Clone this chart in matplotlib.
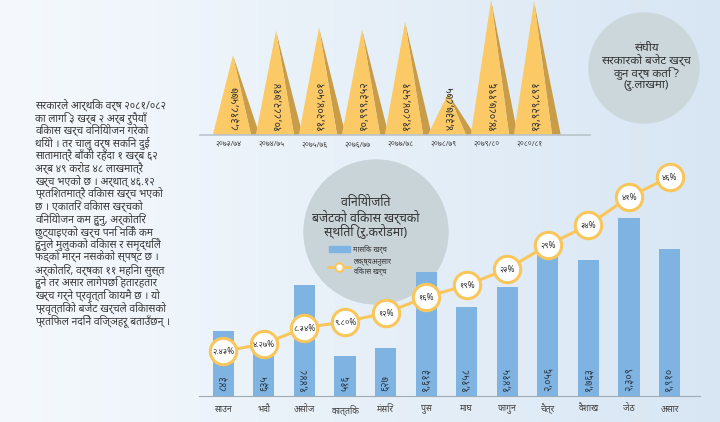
import numpy as np
import matplotlib
matplotlib.use("Agg")
import matplotlib.pyplot as plt
from matplotlib import font_manager
from matplotlib.patches import Circle, Polygon, Rectangle
from fontTools.ttLib import TTFont

# yearly federal budget expense (Rs. lakh)
years = ['२०७३/७४', '२०७४/७५', '२०७५/७६', '२०७६/७७',
         '२०७७/७८', '२०७८/७९', '२०७९/८०', '२०८०/८१']
year_values = [8318577, 10882714, 11204501, 10999352,
               11804521, 4337875, 14087196, 13929891]
year_labels = ['८,३१८,५७७', '१०,८८२,७१४', '११,२०४,५०१', '१०,९९९,३५२',
               '११,८०४,५२१', '४,३३७,८७५', '१४,०८७,१९६', '१३,९२९,८९१']

# monthly development expense (Rs. crore) and target progress (%)
months = ['साउन', 'भदौ', 'असोज', 'कात्तिक', 'मंसिर', 'पुस',
          'माघ', 'फागुन', 'चैत्र', 'वैशाख', 'जेठ', 'असार']
month_values = [843, 635, 1448, 516, 627, 1613, 1158, 1415, 2056, 1763, 2309, 1910]
month_labels = ['८४३', '६३५', '१,४४८', '५१६', '६२७', '१,६१३',
                '१,१५८', '१,४१५', '२,०५६', '१,७६३', '२,३०९', '१,९१०']
target_pct = [2.43, 4.27, 8.34, 9.80, 12, 16, 19, 23, 29, 34, 41, 46]
target_labels = ['२.४३%', '४.२७%', '८.३४%', '९.८०%', '१२%', '१६%',
                 '१९%', '२३%', '२९%', '३४%', '४१%', '४६%']

story = [
    'सरकारले आर्थिक वर्ष २०८१/०८२',
    'का लागि ३ खर्ब २ अर्ब रुपैयाँ',
    'विकास खर्च विनियोजन गरेको',
    'थियो । तर चालु वर्ष सकिन दुई',
    'सातामात्रै बाँकी रहँदा १ खर्ब ६२',
    'अर्ब ४९ करोड ४८ लाखमात्रै',
    'खर्च भएको छ । अर्थात् ४६.१२',
    'प्रतिशतमात्रै विकास खर्च भएको',
    'छ । एकातिर विकास खर्चको',
    'विनियोजन कम हुनु, अर्कोतिर',
    'छुट्याइएको खर्च पनि निकै कम',
    'हुनुले मुलुकको विकास र समृद्धिले',
    'फड्को मार्न नसकेको स्पष्ट छ ।',
    'अर्कोतिर, वर्षका ११ महिना सुस्त',
    'हुने तर असार लागेपछि हतारहतार',
    'खर्च गर्ने प्रवृत्ति कायमै छ । यो',
    'प्रवृत्तिको बजेट खर्चले विकासको',
    'प्रतिफल नदिने विज्ञहरू बताउँछन् ।',
]


def find_devanagari_font():
    # installed fonts that have Devanagari glyphs, Noto first
    found = []
    for f in font_manager.fontManager.ttflist:
        try:
            font = TTFont(f.fname, fontNumber=0, lazy=True)
            if 0x0915 in font.getBestCmap():
                found.append(f.name)
        except Exception:
            pass
    found.sort(key=lambda n: (0 if 'Noto' in n else 1 if 'Devanagari' in n else 2))
    return found[0] if found else None


deva = find_devanagari_font()
if deva:
    plt.rcParams['font.family'] = [deva, 'DejaVu Sans']
else:
    plt.rcParams['font.family'] = ['DejaVu Sans']

W, H = 720, 422
fig = plt.figure(figsize=(7.2, 4.22), dpi=100)

# background in pixel coordinates
bg = fig.add_axes([0, 0, 1, 1], zorder=0)
bg.set_xlim(0, W)
bg.set_ylim(H, 0)
bg.axis('off')
grad = np.linspace(0, 1, 256)[None, :]
cmap = matplotlib.colors.LinearSegmentedColormap.from_list('bg', ['#f5f9fd', '#e7f0f8', '#d8e6f4'])
bg.imshow(grad, extent=[0, W, H, 0], aspect='auto', cmap=cmap, zorder=0)

# left story text
for i, line in enumerate(story):
    bg.text(35, 105 + i * 12.65, line, fontsize=7.5, color='#3a3a3a', va='center', ha='left')

# top-right circle
bg.add_patch(Circle((644, 68), 55, color='#ccd7dc', zorder=1))
for i, line in enumerate(['संघीय', 'सरकारको बजेट खर्च', 'कुन वर्ष कति ?', '(रु.लाखमा)']):
    bg.text(646, 48 + i * 12.3, line, fontsize=8.4, color='#333333', ha='center', va='center', zorder=2)

# middle circle with title and legend
bg.add_patch(Circle((376, 232), 72, color='#c9d4d9', zorder=1))
for i, line in enumerate(['विनियोजित', 'बजेटको विकास खर्चको', 'स्थिति (रु.करोडमा)']):
    bg.text(366, 202 + i * 14.5, line, fontsize=8.8, color='#333333', ha='center', va='center', zorder=2)
bg.add_patch(Rectangle((329, 246), 21, 6, color='#7fb3e2', zorder=2))
bg.text(353, 249, 'मासिक खर्च', fontsize=5.2, color='#333333', va='center', zorder=2)
bg.plot([328, 350], [267, 267], color='#f9c65c', lw=2, zorder=2)
bg.plot([339], [267], 'o', ms=6, mfc='white', mec='#f9c65c', mew=1.5, zorder=3)
bg.text(353, 262, 'लक्ष्यअनुसार', fontsize=5.2, color='#333333', va='center', zorder=2)
bg.text(353, 271, 'विकास खर्च', fontsize=5.2, color='#333333', va='center', zorder=2)

# top triangle chart
axt = fig.add_axes([200 / W, (H - 135) / H, 390 / W, 135 / H], zorder=2)
axt.set_xlim(-0.767, 8.3)
axt.set_ylim(0, 14.1e6)
axt.axis('off')
axt.patch.set_alpha(0)
for i, (v, lab) in enumerate(zip(year_values, year_labels)):
    axt.add_patch(Polygon([(i, v), (i + 0.42, 0), (i + 0.62, 0)], closed=True,
                          color='#c99d47', lw=0))
    axt.add_patch(Polygon([(i - 0.47, 0), (i, v), (i + 0.42, 0)], closed=True,
                          color='#fbc966', lw=0))
    axt.text(i + 0.05, 0.5e6, lab, rotation=90, ha='center', va='bottom',
             fontsize=7.6, color='#333333', clip_on=False)
    axt.text(i - 0.1, -0.6e6, years[i], ha='center', va='top',
             fontsize=5.4, color='#444444', clip_on=False)
axt.plot([-0.767, 8.3], [0, 0], color='#b8c3cc', lw=1.2, clip_on=False)

# monthly bar chart with target line
x = np.arange(len(months))
axb = fig.add_axes([199 / W, 26 / H, 501 / W, 240 / H], zorder=3)
axb.patch.set_alpha(0)
axb.set_xlim(-0.6, 11.75)
axb.set_ylim(0, 240 / 0.077)
for s in axb.spines.values():
    s.set_visible(False)
axb.spines['bottom'].set_visible(True)
axb.spines['bottom'].set_color('#9eabb5')
axb.set_yticks([])
axb.bar(x, month_values, width=0.52, color='#7fb3e2', zorder=2)
for xi, lab in zip(x, month_labels):
    axb.text(xi, 70, lab, rotation=90, ha='center', va='bottom',
             fontsize=7.4, color='#2d3b48', zorder=3)
axb.set_xticks(x)
axb.set_xticklabels(months, fontsize=6.3, color='#444444')
axb.tick_params(axis='x', length=0, pad=6)

axl = axb.twinx()
axl.set_ylim(-35 / 4, (240 - 35) / 4)
axl.axis('off')
axl.plot(x, target_pct, color='#f9c65c', lw=2.2, zorder=4,
         marker='o', ms=19, mfc='white', mec='#f9c65c', mew=2.2, clip_on=False)
for xi, p, lab in zip(x, target_pct, target_labels):
    axl.text(xi, p, lab, ha='center', va='center', fontsize=6.0, color='#333333',
             zorder=5, clip_on=False)

fig.savefig('out.png', dpi=100)
